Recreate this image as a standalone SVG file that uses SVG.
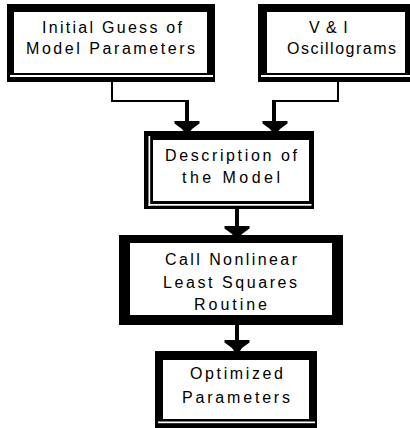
<svg xmlns="http://www.w3.org/2000/svg" width="410" height="428" viewBox="0 0 410 428">
<style>
.frame{fill:#000}
.inner{fill:#fff}
.gap{fill:#fff}
.lbl{font-family:"Liberation Sans",Arial,sans-serif;font-size:16px;fill:#000}
.thin{fill:none;stroke:#000;stroke-width:2}
.stem{fill:none;stroke:#000;stroke-width:4}
</style>
<defs>
<path id="ah" d="M-12.5,0 L12.5,0 L12.5,2.5 L5,8 L3,11 L-3,11 L-5,8 L-12.5,2.5 Z" fill="#000"/>
</defs>
<rect width="410" height="428" fill="#fff"/>
<g id="connectors">
<polyline class="thin" points="112,82 112,101 188,101"/>
<line class="stem" x1="187" y1="100" x2="187" y2="123"/>
<use href="#ah" x="187" y="121"/>
<polyline class="thin" points="338,82 338,101 273,101"/>
<line class="stem" x1="274" y1="100" x2="274" y2="123"/>
<use href="#ah" x="275" y="121"/>
<line class="stem" x1="237" y1="209" x2="237" y2="228"/>
<use href="#ah" x="237" y="226"/>
<line class="stem" x1="237" y1="325" x2="237" y2="341"/>
<use href="#ah" x="237" y="340"/>
</g>
<g id="initial-guess">
<rect class="frame" x="7" y="4" width="208" height="78"/>
<rect class="inner" x="14" y="12" width="193" height="61"/>
<rect class="gap" x="10" y="75" width="203" height="2"/>
<text class="lbl" x="42" y="33" textLength="140" lengthAdjust="spacing">Initial Guess of</text>
<text class="lbl" x="26" y="54" textLength="169" lengthAdjust="spacing">Model Parameters</text>
</g>
<g id="oscillograms">
<rect class="frame" x="258" y="4" width="154" height="78"/>
<rect class="inner" x="267" y="12" width="138" height="61"/>
<rect class="gap" x="261" y="75" width="151" height="2"/>
<text class="lbl" x="309" y="33" letter-spacing="1">V &amp; I</text>
<text class="lbl" x="287" y="54" textLength="109" lengthAdjust="spacing">Oscillograms</text>
</g>
<g id="model-description">
<rect class="frame" x="144" y="131" width="170" height="78"/>
<rect class="inner" x="153" y="140" width="156" height="61"/>
<rect class="gap" x="148.5" y="136" width="1.7" height="70"/>
<rect class="gap" x="148.5" y="204" width="163" height="1.7"/>
<text class="lbl" x="165" y="161" textLength="132" lengthAdjust="spacing">Description of</text>
<text class="lbl" x="182" y="183" textLength="98" lengthAdjust="spacing">the Model</text>
</g>
<g id="least-squares">
<rect class="frame" x="119" y="235" width="224" height="90"/>
<rect class="inner" x="130" y="243" width="202" height="72"/>
<text class="lbl" x="165" y="265" textLength="132" lengthAdjust="spacing">Call Nonlinear</text>
<text class="lbl" x="163" y="288" textLength="134" lengthAdjust="spacing">Least Squares</text>
<text class="lbl" x="194" y="310" textLength="73" lengthAdjust="spacing">Routine</text>
</g>
<g id="optimized">
<rect class="frame" x="155" y="351" width="162" height="80"/>
<rect class="inner" x="163" y="360" width="146" height="59"/>
<rect class="gap" x="158" y="421.5" width="157" height="1.7"/>
<text class="lbl" x="190" y="379" textLength="93" lengthAdjust="spacing">Optimized</text>
<text class="lbl" x="182" y="403" textLength="108" lengthAdjust="spacing">Parameters</text>
</g>
</svg>
